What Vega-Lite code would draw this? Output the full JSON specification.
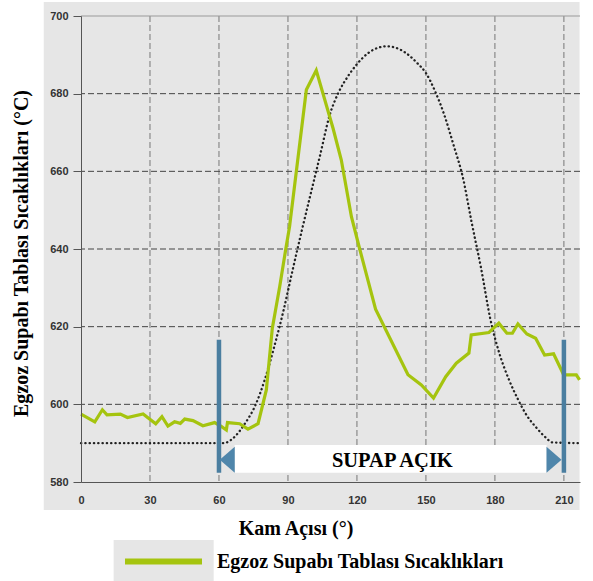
{
  "$schema": "https://vega.github.io/schema/vega-lite/v6.json",
  "width": 499,
  "height": 466,
  "autosize": {"type": "none"},
  "padding": {"left": 81, "top": 16, "right": 13, "bottom": 99},
  "background": "white",
  "view": {"stroke": null, "fill": null},
  "datasets": {
    "egzoz": [
      {"aci": 0, "sicaklik": 597.5}, {"aci": 6, "sicaklik": 595.5}, {"aci": 9.3, "sicaklik": 598.6},
      {"aci": 11.3, "sicaklik": 597.3}, {"aci": 17.1, "sicaklik": 597.5}, {"aci": 20.2, "sicaklik": 596.6},
      {"aci": 27, "sicaklik": 597.5}, {"aci": 32.5, "sicaklik": 595}, {"aci": 35.2, "sicaklik": 596.8},
      {"aci": 37.8, "sicaklik": 594.4}, {"aci": 40.7, "sicaklik": 595.5}, {"aci": 43.2, "sicaklik": 595.1},
      {"aci": 45.1, "sicaklik": 596.2}, {"aci": 48.7, "sicaklik": 595.8}, {"aci": 53, "sicaklik": 594.5},
      {"aci": 58.1, "sicaklik": 595.3}, {"aci": 61, "sicaklik": 594.3}, {"aci": 63.2, "sicaklik": 593.4},
      {"aci": 63.7, "sicaklik": 595.3}, {"aci": 69, "sicaklik": 595}, {"aci": 72.6, "sicaklik": 593.6},
      {"aci": 77, "sicaklik": 595}, {"aci": 80.6, "sicaklik": 603.7}, {"aci": 83.2, "sicaklik": 619.6},
      {"aci": 86.4, "sicaklik": 630.3}, {"aci": 89, "sicaklik": 639.8}, {"aci": 90.7, "sicaklik": 645.8},
      {"aci": 98, "sicaklik": 681}, {"aci": 102.3, "sicaklik": 686}, {"aci": 109.6, "sicaklik": 671.1},
      {"aci": 113.2, "sicaklik": 662.9}, {"aci": 117.6, "sicaklik": 648.3}, {"aci": 121.2, "sicaklik": 640},
      {"aci": 128.1, "sicaklik": 624.5}, {"aci": 142.2, "sicaklik": 607.6}, {"aci": 148, "sicaklik": 605},
      {"aci": 153.3, "sicaklik": 601.6}, {"aci": 158.6, "sicaklik": 607.1}, {"aci": 163.2, "sicaklik": 610.6},
      {"aci": 168.7, "sicaklik": 613.2}, {"aci": 169.7, "sicaklik": 617.9}, {"aci": 177.4, "sicaklik": 618.5},
      {"aci": 181.7, "sicaklik": 620.9}, {"aci": 185.2, "sicaklik": 618.3}, {"aci": 187.6, "sicaklik": 618.3},
      {"aci": 190, "sicaklik": 620.7}, {"aci": 193.9, "sicaklik": 618.1}, {"aci": 197.7, "sicaklik": 617},
      {"aci": 201.6, "sicaklik": 612.7}, {"aci": 205.5, "sicaklik": 613}, {"aci": 209.9, "sicaklik": 607.6},
      {"aci": 215.4, "sicaklik": 607.6}, {"aci": 216.8, "sicaklik": 606.3}
    ],
    "kam": [
      {"aci": 0, "deger": 590}, {"aci": 62, "deger": 590}, {"aci": 66, "deger": 591.2},
      {"aci": 71, "deger": 594.8}, {"aci": 76, "deger": 600}, {"aci": 80, "deger": 606.5},
      {"aci": 84, "deger": 614.8}, {"aci": 88, "deger": 624}, {"aci": 92, "deger": 634.5},
      {"aci": 96, "deger": 644.7}, {"aci": 100, "deger": 654.5}, {"aci": 104, "deger": 664.2},
      {"aci": 108, "deger": 674.2}, {"aci": 112, "deger": 680.3}, {"aci": 116, "deger": 684.4},
      {"aci": 120, "deger": 687.6}, {"aci": 125, "deger": 690.5}, {"aci": 129, "deger": 691.8},
      {"aci": 133, "deger": 692.2}, {"aci": 137, "deger": 691.8}, {"aci": 141, "deger": 690.6},
      {"aci": 146, "deger": 688}, {"aci": 150, "deger": 685.3}, {"aci": 154, "deger": 680.6},
      {"aci": 158, "deger": 674.5}, {"aci": 162, "deger": 666.8}, {"aci": 166, "deger": 658.6},
      {"aci": 170, "deger": 646.5}, {"aci": 174, "deger": 635}, {"aci": 178, "deger": 622},
      {"aci": 182, "deger": 613}, {"aci": 186, "deger": 606.5}, {"aci": 190, "deger": 601.3},
      {"aci": 194, "deger": 597}, {"aci": 198, "deger": 594}, {"aci": 202, "deger": 591.5},
      {"aci": 205, "deger": 590.2}, {"aci": 217, "deger": 590}
    ],
    "dikey": [{"g": 30}, {"g": 60}, {"g": 90}, {"g": 120}, {"g": 150}, {"g": 180}, {"g": 210}],
    "yatay": [{"g": 600}, {"g": 620}, {"g": 640}, {"g": 660}, {"g": 680}],
    "supap": [{"aci": 60}, {"aci": 210}],
    "tek": [{"n": 1}]
  },
  "config": {
    "axis": {
      "labelFont": "Liberation Sans",
      "labelFontSize": 11,
      "labelFontWeight": "bold",
      "labelColor": "#333",
      "domainColor": "#555",
      "tickColor": "#555",
      "titleFont": "Liberation Serif",
      "titleFontSize": 20,
      "titleFontWeight": "bold",
      "titleColor": "#000",
      "grid": false
    }
  },
  "layer": [
    {
      "data": {"name": "tek"},
      "mark": {"type": "rect", "fill": "#e6e6e6", "clip": false},
      "encoding": {
        "x": {
          "datum": -16.2, "type": "quantitative",
          "scale": {"domain": [0, 217], "nice": false, "zero": false},
          "axis": {
            "title": "Kam Açısı (°)",
            "zindex": 2,
            "values": [0, 30, 60, 90, 120, 150, 180, 210],
            "ticks": false,
            "labelPadding": 12,
            "labelFlush": false,
            "titleX": 214.5,
            "titleY": 52,
            "titleAlign": "center",
            "titleBaseline": "alphabetic"
          }
        },
        "x2": {"datum": 216.8},
        "y": {
          "datum": 572.8, "type": "quantitative",
          "scale": {"domain": [580, 700], "nice": false, "zero": false},
          "axis": {
            "title": "Egzoz Supabı Tablası Sıcaklıkları (°C)",
            "zindex": 2,
            "values": [580, 590, 600, 610, 620, 630, 640, 650, 660, 670, 680, 690, 700],
            "labelExpr": "datum.value % 20 === 0 ? datum.label : ''",
            "tickSize": {"condition": {"test": "datum.value % 20 !== 0", "value": 5}, "value": 8},
            "labelPadding": 5,
            "titleX": -54,
            "titleY": 237,
            "titleAngle": -90,
            "titleAlign": "center",
            "titleBaseline": "alphabetic"
          }
        },
        "y2": {"datum": 703.6}
      }
    },
    {
      "data": {"name": "tek"},
      "mark": {"type": "rect", "fill": "#e6e6e6", "clip": false},
      "encoding": {
        "x": {"datum": 14.2, "type": "quantitative"},
        "x2": {"datum": 57.7},
        "y": {"datum": 565.05, "type": "quantitative"},
        "y2": {"datum": 554.5}
      }
    },
    {
      "data": {"name": "dikey"},
      "mark": {"type": "rule", "stroke": "#777", "strokeWidth": 1, "strokeDash": [6, 3]},
      "encoding": {"x": {"field": "g", "type": "quantitative"}}
    },
    {
      "data": {"name": "yatay"},
      "mark": {"type": "rule", "stroke": "#444", "strokeWidth": 1, "strokeDash": [6, 3]},
      "encoding": {"y": {"field": "g", "type": "quantitative"}}
    },
    {
      "data": {"name": "tek"},
      "mark": {"type": "rule", "stroke": "#9a9a9a", "strokeWidth": 1.2},
      "encoding": {"y": {"datum": 700, "type": "quantitative"}}
    },
    {
      "data": {"name": "tek"},
      "mark": {"type": "rect", "fill": "white"},
      "encoding": {
        "x": {"datum": 66.8, "type": "quantitative"},
        "x2": {"datum": 202.5},
        "y": {"datum": 582.4, "type": "quantitative"},
        "y2": {"datum": 589.5}
      }
    },
    {
      "data": {"name": "kam"},
      "mark": {"type": "line", "stroke": "#222", "strokeWidth": 2.3, "strokeCap": "round", "strokeDash": [0.3, 4], "interpolate": "monotone"},
      "encoding": {
        "x": {"field": "aci", "type": "quantitative"},
        "y": {"field": "deger", "type": "quantitative"}
      }
    },
    {
      "data": {"name": "egzoz"},
      "mark": {"type": "line", "strokeWidth": 3.2, "strokeJoin": "miter"},
      "encoding": {
        "x": {"field": "aci", "type": "quantitative"},
        "y": {"field": "sicaklik", "type": "quantitative"},
        "color": {
          "datum": "Egzoz Supabı Tablası Sıcaklıkları",
          "type": "nominal",
          "scale": {"range": ["#a5c40f"]},
          "legend": {
            "title": null,
            "orient": "none",
            "legendX": 41,
            "legendY": 504,
            "padding": 0,
            "symbolType": "stroke",
            "symbolSize": 5929,
            "symbolStrokeWidth": 6,
            "labelFont": "Liberation Serif",
            "labelFontSize": 20,
            "labelFontWeight": "bold",
            "labelColor": "#000",
            "labelOffset": 12,
            "labelLimit": 500
          }
        }
      }
    },
    {
      "data": {"name": "supap"},
      "mark": {"type": "rule", "stroke": "#4a7ea0", "strokeWidth": 4.5},
      "encoding": {
        "x": {"field": "aci", "type": "quantitative"},
        "y": {"datum": 582.4, "type": "quantitative"},
        "y2": {"datum": 616.6}
      }
    },
    {
      "data": {"name": "tek"},
      "mark": {"type": "point", "filled": true, "fill": "#4f86ab", "strokeWidth": 0, "opacity": 1, "size": 676, "shape": "M0.577,-1L-0.577,0L0.577,1Z"},
      "encoding": {
        "x": {"datum": 63.6, "type": "quantitative"},
        "y": {"datum": 585.7, "type": "quantitative"}
      }
    },
    {
      "data": {"name": "tek"},
      "mark": {"type": "point", "filled": true, "fill": "#4f86ab", "strokeWidth": 0, "opacity": 1, "size": 676, "shape": "M-0.577,-1L0.577,0L-0.577,1Z"},
      "encoding": {
        "x": {"datum": 205.7, "type": "quantitative"},
        "y": {"datum": 585.7, "type": "quantitative"}
      }
    },
    {
      "data": {"name": "tek"},
      "mark": {"type": "text", "text": "SUPAP AÇIK", "font": "Liberation Serif", "fontSize": 20.5, "fontWeight": "bold", "fill": "#000", "align": "center", "baseline": "alphabetic"},
      "encoding": {
        "x": {"datum": 135.4, "type": "quantitative"},
        "y": {"datum": 583.9, "type": "quantitative"}
      }
    }
  ]
}
